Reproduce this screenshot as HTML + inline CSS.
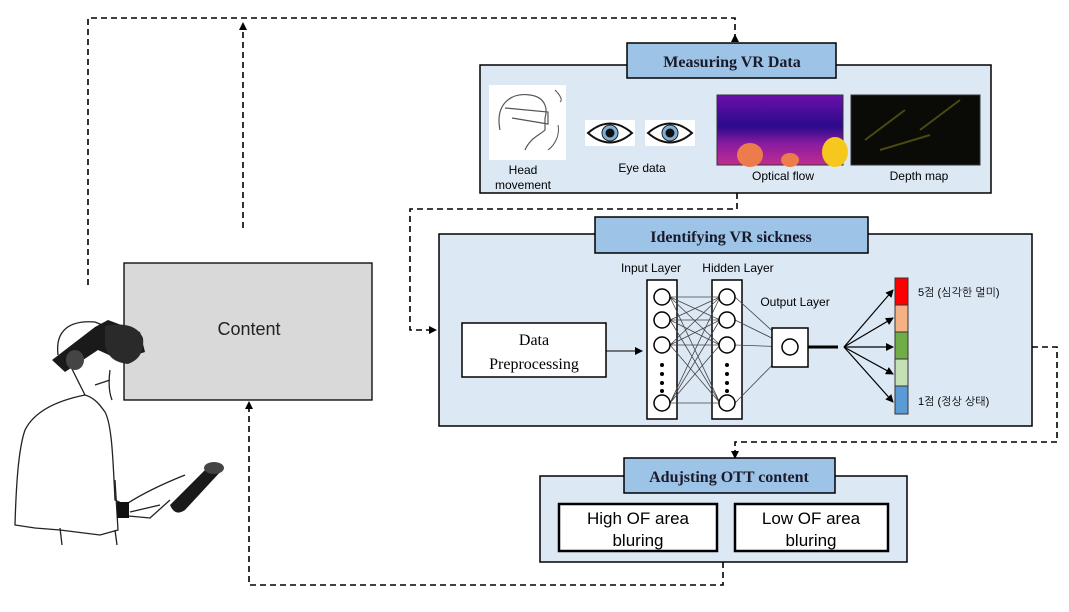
<!DOCTYPE html>
<html><head><meta charset="utf-8"><style>
body{margin:0;background:#fff;width:1069px;height:607px;overflow:hidden}
svg text{font-family:"Liberation Sans","NanumGothic",sans-serif}
.serif{font-family:"Liberation Serif","NanumGothic",serif}
</style></head><body>
<svg width="1069" height="607" viewBox="0 0 1069 607" xmlns="http://www.w3.org/2000/svg">
<defs>
<marker id="ah" markerWidth="8" markerHeight="8" refX="7" refY="4" orient="auto" markerUnits="userSpaceOnUse"><path d="M0,0 L8,4 L0,8 z" fill="#000"/></marker>
<linearGradient id="of" x1="0" y1="0" x2="0" y2="1"><stop offset="0" stop-color="#6a10a8"/><stop offset="0.45" stop-color="#2a0a8c"/><stop offset="0.7" stop-color="#8a1ca0"/><stop offset="1" stop-color="#c02c90"/></linearGradient>
</defs>
<g fill="none" stroke="#000" stroke-width="1.6" stroke-dasharray="6,4">
<path d="M88,285 V18 H735 V40"/>
<path d="M737,193 V209 H410 V330 H435"/>
<path d="M1032,347 H1057 V442 H735 V455"/>
<path d="M723,562 V585 H249 V404"/>
<path d="M243,228 V28"/>
</g>
<path d="M735,34 L731,42 H739 z"/>
<path d="M243,22 L239,30 H247 z"/>
<path d="M437,330 L429,326 V334 z"/>
<path d="M735,459 L731,451 H739 z"/>
<path d="M249,401 L245,409 H253 z"/>

<rect x="124" y="263" width="248" height="137" fill="#d9d9d9" stroke="#000" stroke-width="1.3"/>
<text x="249" y="335" font-size="18" text-anchor="middle" fill="#222">Content</text>

<!-- Measuring -->
<rect x="480" y="65" width="511" height="128" fill="#dde8f5" stroke="#000" stroke-width="1.5"/>
<rect x="627" y="43" width="209" height="35" fill="#9dc3e6" stroke="#000" stroke-width="1.5"/>
<text x="732" y="67" font-size="16" text-anchor="middle" class="serif" font-weight="bold" fill="#1a1a2a">Measuring VR Data</text>
<rect x="489" y="85" width="77" height="75" fill="#fff"/>
<path d="M500,130 C495,105 510,92 530,95 C545,97 548,108 545,118 L545,130 C540,135 530,138 525,150 M505,108 L548,112 L548,124 L512,118" fill="none" stroke="#555" stroke-width="1.2"/>
<path d="M555,90 C560,95 563,100 560,102 M558,125 C560,135 555,145 548,150" fill="none" stroke="#555" stroke-width="1"/>
<text x="523" y="174" font-size="12" text-anchor="middle">Head</text>
<text x="523" y="189" font-size="12" text-anchor="middle">movement</text>
<rect x="585" y="120" width="50" height="26" fill="#fff"/><rect x="645" y="120" width="50" height="26" fill="#fff"/>
<g stroke="#111" stroke-width="2" fill="#fff"><path d="M588,133 Q610,114 632,133 Q610,152 588,133 z"/><path d="M648,133 Q670,114 692,133 Q670,152 648,133 z"/></g>
<circle cx="610" cy="133" r="8" fill="#7fb0d8" stroke="#222"/><circle cx="610" cy="133" r="4.5" fill="#111"/>
<circle cx="670" cy="133" r="8" fill="#7fb0d8" stroke="#222"/><circle cx="670" cy="133" r="4.5" fill="#111"/>
<text x="642" y="172" font-size="12" text-anchor="middle">Eye data</text>
<rect x="717" y="95" width="126" height="70" fill="url(#of)" stroke="#333"/>
<ellipse cx="750" cy="155" rx="13" ry="12" fill="#ec7c4c"/><ellipse cx="790" cy="160" rx="9" ry="7" fill="#ec7c4c"/><ellipse cx="835" cy="152" rx="13" ry="15" fill="#f6c81e"/>
<text x="783" y="180" font-size="12" text-anchor="middle">Optical flow</text>
<rect x="851" y="95" width="129" height="70" fill="#0a0a06" stroke="#333"/>
<path d="M865,140 L905,110 M920,130 L960,100 M880,150 L930,135" stroke="#4a4a10" stroke-width="2"/>
<text x="919" y="180" font-size="12" text-anchor="middle">Depth map</text>

<!-- Identifying -->
<rect x="439" y="234" width="593" height="192" fill="#dde8f5" stroke="#000" stroke-width="1.5"/>
<rect x="595" y="217" width="273" height="36" fill="#9dc3e6" stroke="#000" stroke-width="1.5"/>
<text x="731" y="242" font-size="16" text-anchor="middle" class="serif" font-weight="bold" fill="#1a1a2a">Identifying VR sickness</text>
<rect x="462" y="323" width="144" height="54" fill="#fff" stroke="#000" stroke-width="1.5"/>
<text x="534" y="345" font-size="16" text-anchor="middle" class="serif">Data</text>
<text x="534" y="369" font-size="16" text-anchor="middle" class="serif">Preprocessing</text>
<path d="M606,351 H642" stroke="#000" marker-end="url(#ah)"/>
<text x="651" y="272" font-size="12" text-anchor="middle">Input Layer</text>
<text x="738" y="272" font-size="12" text-anchor="middle">Hidden Layer</text>
<text x="795" y="306" font-size="12" text-anchor="middle">Output Layer</text>
<rect x="647" y="280" width="30" height="139" fill="#fff" stroke="#000" stroke-width="1.5"/>
<rect x="712" y="280" width="30" height="139" fill="#fff" stroke="#000" stroke-width="1.5"/>
<g stroke="#444" stroke-width="0.8">
<path d="M670,297 L720,297 M670,297 L720,320 M670,297 L720,345 M670,297 L720,403 M670,320 L720,297 M670,320 L720,320 M670,320 L720,345 M670,320 L720,403 M670,345 L720,297 M670,345 L720,320 M670,345 L720,345 M670,345 L720,403 M670,403 L720,297 M670,403 L720,320 M670,403 L720,345 M670,403 L720,403"/>
<path d="M735,297 L790,347 M735,320 L790,347 M735,345 L790,347 M735,403 L790,347"/>
</g>
<rect x="772" y="328" width="36" height="39" fill="#fff" stroke="#000" stroke-width="1.5"/>
<g fill="#fff" stroke="#000" stroke-width="1.5">
<circle cx="662" cy="297" r="8"/><circle cx="662" cy="320" r="8"/><circle cx="662" cy="345" r="8"/><circle cx="662" cy="403" r="8"/>
<circle cx="727" cy="297" r="8"/><circle cx="727" cy="320" r="8"/><circle cx="727" cy="345" r="8"/><circle cx="727" cy="403" r="8"/>
<circle cx="790" cy="347" r="8"/></g>
<g fill="#000"><circle cx="662" cy="365" r="2"/><circle cx="662" cy="374" r="2"/><circle cx="662" cy="383" r="2"/><circle cx="662" cy="391" r="2"/>
<circle cx="727" cy="365" r="2"/><circle cx="727" cy="374" r="2"/><circle cx="727" cy="383" r="2"/><circle cx="727" cy="391" r="2"/></g>
<path d="M808,347 H838" stroke="#000" stroke-width="3"/>
<g stroke="#000" stroke-width="1.2"><path d="M844,347 L893,290" marker-end="url(#ah)"/><path d="M844,347 L893,318" marker-end="url(#ah)"/><path d="M844,347 H893" marker-end="url(#ah)"/><path d="M844,347 L893,374" marker-end="url(#ah)"/><path d="M844,347 L893,402" marker-end="url(#ah)"/></g>
<rect x="895" y="278" width="13" height="27" fill="#ff0000" stroke="#333"/>
<rect x="895" y="305" width="13" height="27" fill="#f4b183" stroke="#333"/>
<rect x="895" y="332" width="13" height="27" fill="#70ad47" stroke="#333"/>
<rect x="895" y="359" width="13" height="27" fill="#c5e0b4" stroke="#333"/>
<rect x="895" y="386" width="13" height="28" fill="#5b9bd5" stroke="#333"/>
<text x="918" y="296" font-size="11">5점 (심각한 멀미)</text>
<text x="918" y="405" font-size="11">1점 (정상 상태)</text>

<!-- Adjusting -->
<rect x="540" y="476" width="367" height="86" fill="#dde8f5" stroke="#000" stroke-width="1.5"/>
<rect x="624" y="458" width="211" height="35" fill="#9dc3e6" stroke="#000" stroke-width="1.5"/>
<text x="729" y="482" font-size="16" text-anchor="middle" class="serif" font-weight="bold" fill="#1a1a2a">Adujsting OTT content</text>
<rect x="559" y="504" width="158" height="47" fill="#fff" stroke="#000" stroke-width="2.5"/>
<rect x="735" y="504" width="153" height="47" fill="#fff" stroke="#000" stroke-width="2.5"/>
<text x="638" y="524" font-size="17" text-anchor="middle">High OF area</text>
<text x="638" y="546" font-size="17" text-anchor="middle">bluring</text>
<text x="811" y="524" font-size="17" text-anchor="middle">Low OF area</text>
<text x="811" y="546" font-size="17" text-anchor="middle">bluring</text>

<!-- person -->
<g fill="none" stroke="#222" stroke-width="1.3">
<path d="M58,355 C55,330 70,320 95,322 L110,328"/>
<path d="M70,365 C75,375 80,385 85,395 M110,370 C108,385 110,395 112,400 M95,385 L110,380"/>
<path d="M85,395 C60,400 35,410 25,430 C18,450 16,490 15,525 L35,528 L60,530 L100,535 L118,530 L115,480"/>
<path d="M85,395 C95,398 100,405 105,412 C112,425 113,460 115,500 L125,505 C140,495 160,485 185,475"/>
<path d="M60,528 L62,545 M115,530 L117,545 M118,515 L150,518 L170,500 M130,512 L160,505"/>
</g>
<path d="M52,360 L95,327 L108,320 L140,332 L145,352 L120,360 L98,350 L65,372 z" fill="#1a1a1a"/>
<ellipse cx="75" cy="360" rx="9" ry="10" fill="#444"/>
<path d="M105,326 Q135,320 143,338 Q145,358 128,364 Q108,362 105,345 z" fill="#2a2a2a"/>
<path d="M170,505 L205,470 Q215,462 222,470 L185,510 Q175,517 170,505 z" fill="#1a1a1a"/>
<ellipse cx="214" cy="468" rx="10" ry="6" fill="#444"/>
<rect x="117" y="502" width="12" height="16" fill="#111"/>
</svg>
</body></html>
